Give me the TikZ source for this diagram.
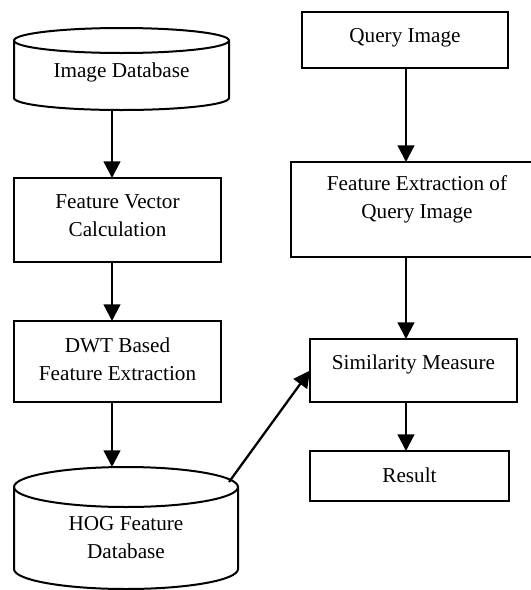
\documentclass[tikz,border=0pt]{standalone}
\usepackage{fontspec}
\setmainfont{Liberation Serif}
\usetikzlibrary{arrows.meta}
\begin{document}
\begin{tikzpicture}[x=0.75pt,y=-0.75pt,
  box/.style={draw, line width=1.5pt, rectangle, inner sep=0pt, outer sep=0pt},
  lbl/.style={font=\fontsize{15.9}{21}\selectfont, align=center, inner sep=0pt},
  arr/.style={line width=1.7pt, -{Triangle[length=12.5pt,width=12.5pt]}},
  cyl/.style={line width=1.5pt}]
\useasboundingbox (0,0) rectangle (531,590);
\clip (0,0) rectangle (531,590);

% cylinders (drawn)
\draw[cyl] (121.5,40.5) ellipse [x radius=107.5, y radius=12.5];
\draw[cyl] (14,40.5) -- (14,98) arc[start angle=180, end angle=0, x radius=107.5, y radius=12] -- (229,40.5);
\node[lbl] (idbt) at (121.5,72) {Image Database};

\draw[cyl] (126,487) ellipse [x radius=112, y radius=20];
\draw[cyl] (14,487) -- (14,569) arc[start angle=180, end angle=0, x radius=112, y radius=20] -- (238,487);
\node[lbl] (hogt) at (126,538) {HOG Feature\\Database};

% boxes left
\node[box, minimum width=155.25pt, minimum height=63pt] (fv) at (117.5,220) {};
\node[lbl] (fvt) at (117.5,216) {Feature Vector\\Calculation};
\node[box, minimum width=155.25pt, minimum height=60.75pt] (dwt) at (117.5,361.5) {};
\node[lbl] (dwtt) at (117.5,359) {DWT Based\\Feature Extraction};

% boxes right
\node[box, minimum width=154.5pt, minimum height=42pt] (qi) at (405,40) {};
\node[lbl] (qit) at (405,38) {Query Image};
\node[box, minimum width=189pt, minimum height=71.25pt] (fe) at (417,209.5) {};
\node[lbl] (fet) at (417,199.5) {Feature Extraction of\\Query Image};
\node[box, minimum width=155.25pt, minimum height=47.25pt] (sim) at (413.5,370.5) {};
\node[lbl] (simt) at (413.5,364) {Similarity Measure};
\node[box, minimum width=149.25pt, minimum height=37.5pt] (res) at (409.5,476) {};
\node[lbl] (rest) at (409.5,475) {Result};

% connector coordinates
\coordinate (lx) at (112,0);
\coordinate (rx) at (406,0);
\coordinate (idbbot) at (112,110);
\coordinate (hogtop) at (112,467);
\coordinate (hogr) at (229,482);

\draw[arr] (idbbot) -- (lx |- fv.north);
\draw[arr] (lx |- fv.south) -- (lx |- dwt.north);
\draw[arr] (lx |- dwt.south) -- (hogtop);
\draw[arr] (rx |- qi.south) -- (rx |- fe.north);
\draw[arr] (rx |- fe.south) -- (rx |- sim.north);
\draw[arr] (rx |- sim.south) -- (rx |- res.north);
\draw[arr] (hogr) -- (sim.west);
\end{tikzpicture}
\end{document}
